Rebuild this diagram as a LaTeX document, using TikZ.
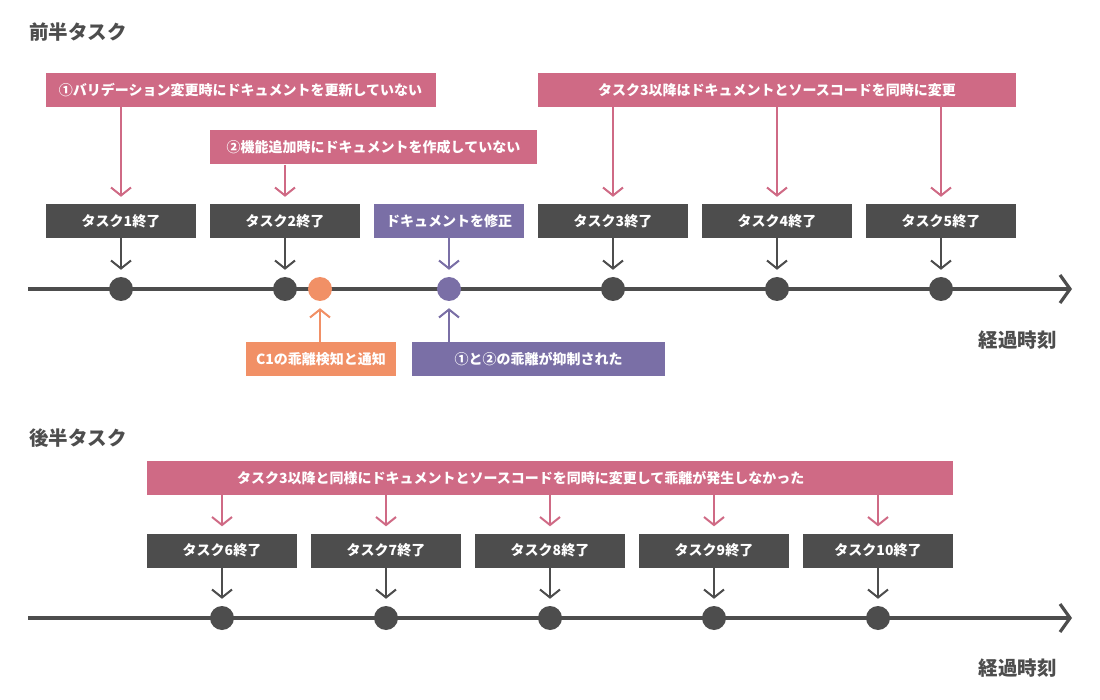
\documentclass[tikz,border=0pt]{standalone}
\usepackage{fontspec}
\setmainfont{Noto Sans CJK JP}
\usetikzlibrary{arrows.meta}
\definecolor{pk}{HTML}{CF6A85}
\definecolor{dk}{HTML}{4D4D4D}
\definecolor{pu}{HTML}{7A6FA6}
\definecolor{orc}{HTML}{F19066}
\tikzset{
  box/.style={inner sep=0pt, minimum height=34pt, text=white, font=\fontsize{14}{16}\selectfont\bfseries},
  pbox/.style={box, fill=pk},
  dbox/.style={box, fill=dk, minimum width=150pt},
  ubox/.style={box, fill=pu},
  obox/.style={box, fill=orc},
  tip/.style={-{Straight Barb[length=8pt,width=20pt,line width=2pt]}, line width=2pt},
  parr/.style={tip, draw=pk},
  darr/.style={tip, draw=dk},
  uarr/.style={tip, draw=pu},
  oarr/.style={tip, draw=orc},
  tline/.style={line width=3.2pt, draw=dk, -{Straight Barb[length=10pt,width=28pt,line width=3.2pt]}},
  dot/.style={circle, inner sep=0pt, minimum size=24pt, fill=dk},
  ttl/.style={text=dk, font=\fontsize{19.5}{22}\selectfont\bfseries, inner sep=0pt},
}
\begin{document}
\begin{tikzpicture}[x=1pt,y=-1pt]
\useasboundingbox (0,0) rectangle (1100,700);
% ===== upper half =====
\node[ttl, anchor=west] (h1) at (29,32) {前半タスク};
\node[ttl, anchor=east] (k1) at (1057,340) {経過時刻};

\node[pbox, minimum width=390pt] (b1) at (240.5,90) {①バリデーション変更時にドキュメントを更新していない};
\node[pbox, minimum width=327pt] (b2) at (373.5,147.5) {②機能追加時にドキュメントを作成していない};
\node[pbox, minimum width=478pt] (b3) at (777,90) {タスク3以降はドキュメントとソースコードを同時に変更};

\node[dbox] (t1) at (121,221) {タスク1終了};
\node[dbox] (t2) at (285,221) {タスク2終了};
\node[ubox, minimum width=150pt] (doc) at (449,221) {ドキュメントを修正};
\node[dbox] (t3) at (613,221) {タスク3終了};
\node[dbox] (t4) at (777,221) {タスク4終了};
\node[dbox] (t5) at (941,221) {タスク5終了};

\coordinate (s1) at (28,289);
\coordinate (e1) at (1072,289);
\draw[tline] (s1) -- (e1);

\node[dot] (d1) at (121,289) {};
\node[dot] (d2) at (285,289) {};
\node[dot, fill=orc] (od) at (320,289) {};
\node[dot, fill=pu] (d3) at (449,289) {};
\node[dot] (d4) at (613,289) {};
\node[dot] (d5) at (777,289) {};
\node[dot] (d6) at (941,289) {};

\node[obox, minimum width=150pt] (c1) at (321,359) {C1の乖離検知と通知};
\node[ubox, minimum width=253pt] (pb) at (538.5,359) {①と②の乖離が抑制された};

\draw[parr] (b1.south -| t1) -- ([yshift=7pt]t1.north);
\draw[parr] (b2.south -| t2) -- ([yshift=7pt]t2.north);
\draw[parr] (b3.south -| t3) -- ([yshift=7pt]t3.north);
\draw[parr] (b3.south -| t4) -- ([yshift=7pt]t4.north);
\draw[parr] (b3.south -| t5) -- ([yshift=7pt]t5.north);

\draw[darr] (t1.south) -- ([yshift=7pt]d1.north);
\draw[darr] (t2.south) -- ([yshift=7pt]d2.north);
\draw[uarr] (doc.south) -- ([yshift=7pt]d3.north);
\draw[darr] (t3.south) -- ([yshift=7pt]d4.north);
\draw[darr] (t4.south) -- ([yshift=7pt]d5.north);
\draw[darr] (t5.south) -- ([yshift=7pt]d6.north);

\draw[oarr] (c1.north -| od) -- ([yshift=-7pt]od.south);
\draw[uarr] (pb.north -| d3) -- ([yshift=-7pt]d3.south);

% ===== lower half =====
\node[ttl, anchor=west] (h2) at (29,438) {後半タスク};
\node[ttl, anchor=east] (k2) at (1057,668) {経過時刻};

\node[pbox, minimum width=806pt] (b4) at (550,478) {\makebox[806pt][l]{\hspace*{90pt}タスク3以降と同様にドキュメントとソースコードを同時に変更して乖離が発生しなかった}};

\node[dbox] (t6) at (222,550.5) {タスク6終了};
\node[dbox] (t7) at (386,550.5) {タスク7終了};
\node[dbox] (t8) at (550,550.5) {タスク8終了};
\node[dbox] (t9) at (714,550.5) {タスク9終了};
\node[dbox] (t10) at (878,550.5) {タスク10終了};

\coordinate (s2) at (28,618);
\coordinate (e2) at (1072,618);
\draw[tline] (s2) -- (e2);

\foreach \i/\x in {6/222,7/386,8/550,9/714,10/878}{
  \node[dot] (e\i) at (\x,618) {};
  \draw[parr] (b4.south -| t\i) -- ([yshift=7pt]t\i.north);
  \draw[darr] (t\i.south) -- ([yshift=7pt]e\i.north);
}
\end{tikzpicture}
\end{document}
